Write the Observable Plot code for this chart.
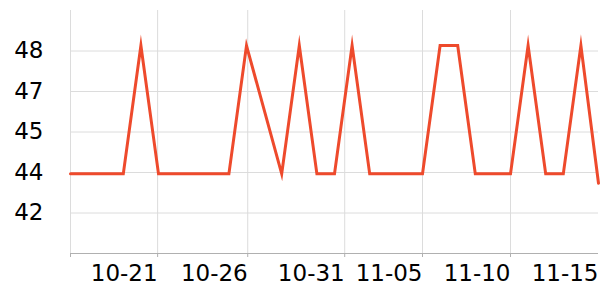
<!DOCTYPE html>
<html>
<head>
<meta charset="utf-8">
<script src="https://cdn.jsdelivr.net/npm/d3@7"></script>
<script src="https://cdn.jsdelivr.net/npm/@observablehq/plot@0.6"></script>
<style>
  html, body { margin: 0; padding: 0; background: #fff; }
  #chart svg { display: block; }
</style>
</head>
<body>
<div id="chart"></div>
<script>
// Day offsets (one day has no reading) and values
const days   = [0, 1, 2, 3, 4, 5, 6, 7, 8, 9, 10, 12, 13, 14, 15, 16, 17, 18, 19, 20, 21, 22, 23, 24, 25, 26, 27, 28, 29, 30];
const values = [43.45, 43.45, 43.45, 43.45, 48.2, 43.45, 43.45, 43.45, 43.45, 43.45, 48.2, 43.45, 48.2, 43.45, 43.45, 48.2, 43.45, 43.45, 43.45, 43.45, 48.2, 48.2, 43.45, 43.45, 43.45, 48.2, 43.45, 43.45, 48.2, 43.1];

// x axis: grid positions and tick labels (labels sit right-aligned at the next grid line)
const gridTicks  = [0, 4.95, 10.07, 15.58, 20, 25];
const labelTicks = [4.95, 10.07, 15.58, 20, 25, 30];
const xLabels    = ["10-21", "10-26", "10-31", "11-05", "11-10", "11-15"];

// y axis ticks
const yTicks = [42, 43.5, 45, 46.5, 48];
const yDomain = [40.5, 49.5];

const data = days.map((d, i) => ({day: d, value: values[i]}));
const labelMap = new Map(labelTicks.map((t, i) => [t, xLabels[i]]));

const chart = Plot.plot({
  width: 600,
  height: 300,
  marginLeft: 70,
  marginRight: 2,
  marginTop: 10,
  marginBottom: 47,
  style: {fontFamily: "DejaVu Sans", fontSize: "23px", color: "#000", background: "#fff"},
  x: {domain: [0, 30], axis: null, label: null},
  y: {domain: yDomain, axis: null, label: null},
  marks: [
    Plot.gridY(yTicks, {stroke: "#dcdcdc", strokeOpacity: 1, strokeWidth: 1}),
    Plot.gridX(gridTicks, {stroke: "#dcdcdc", strokeOpacity: 1, strokeWidth: 1}),
    Plot.ruleY([yDomain[0]], {stroke: "#b0b0b0", strokeWidth: 1.2}),
    Plot.axisX(gridTicks, {tickSize: 4, stroke: "#b0b0b0", label: null, tickFormat: () => ""}),
    Plot.axisX(labelTicks, {tickSize: 0, tickPadding: 11, textAnchor: "end", fontSize: 23, fill: "#000", label: null, tickFormat: d => labelMap.get(d)}),
    Plot.axisY(yTicks, {tickSize: 0, tickPadding: 27, fontSize: 23, fill: "#000", label: null, tickFormat: d => String(Math.round(d))}),
    Plot.line(data, {x: "day", y: "value", stroke: "#ee4a2c", strokeWidth: 3, strokeLinejoin: "miter", strokeMiterlimit: 10})
  ]
});
document.getElementById("chart").appendChild(chart);
</script>
</body>
</html>
